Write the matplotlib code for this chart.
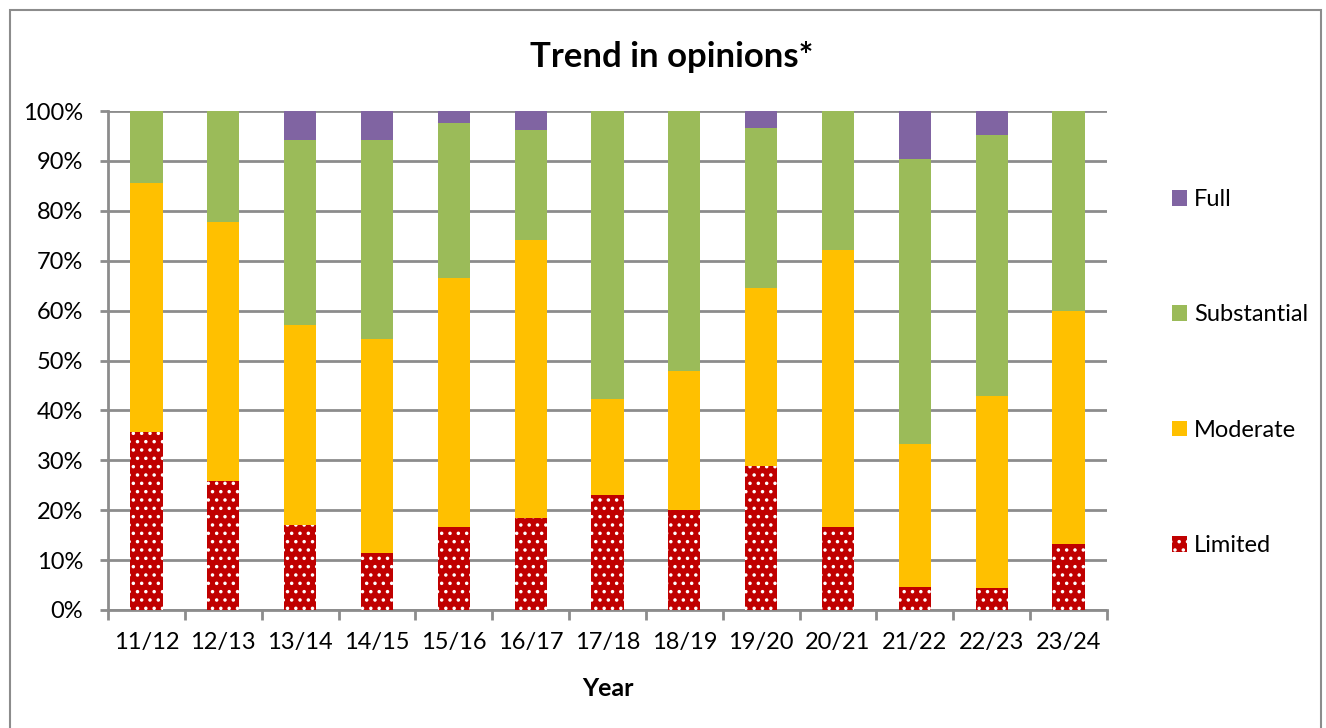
import matplotlib
matplotlib.use("Agg")
import matplotlib.pyplot as plt
import numpy as np
from matplotlib.patches import Rectangle, Patch

plt.rcParams['font.family'] = ['Lato', 'DejaVu Sans']
plt.rcParams['hatch.linewidth'] = 1.3

years = ["11/12", "12/13", "13/14", "14/15", "15/16", "16/17", "17/18",
         "18/19", "19/20", "20/21", "21/22", "22/23", "23/24"]
limited = [35.7, 25.9, 17.0, 11.4, 16.6, 18.4, 23.0, 20.0, 28.9, 16.6, 4.7, 4.5, 13.2]
moderate_top = [85.6, 77.7, 57.1, 54.3, 66.5, 74.1, 42.2, 47.8, 64.5, 72.1, 33.3, 42.9, 59.9]
substantial_top = [100, 100, 94.2, 94.2, 97.6, 96.2, 100, 100, 96.6, 100, 90.4, 95.2, 100]

limited = np.array(limited)
moderate = np.array(moderate_top) - limited
substantial = np.array(substantial_top) - np.array(moderate_top)
full = 100 - np.array(substantial_top)

c_lim = "#C00000"
c_mod = "#FFC000"
c_sub = "#9BBB59"
c_full = "#8064A2"
grid_c = "#8C8C8C"

W, H = 1326, 728
fig = plt.figure(figsize=(W / 100, H / 100), dpi=100)
ax = fig.add_axes([108 / W, (H - 610) / H, (1107 - 108) / W, (610 - 111) / H])

x = np.arange(len(years))
bw = 0.42
ax.bar(x, limited, bw, color=c_lim, edgecolor="white", linewidth=0, hatch="..", zorder=3)
ax.bar(x, moderate, bw, bottom=limited, color=c_mod, linewidth=0, zorder=3)
ax.bar(x, substantial, bw, bottom=limited + moderate, color=c_sub, linewidth=0, zorder=3)
ax.bar(x, full, bw, bottom=limited + moderate + substantial, color=c_full, linewidth=0, zorder=3)

ax.set_xlim(-0.5, len(years) - 0.5)
ax.set_ylim(0, 100)
ax.set_yticks(np.arange(0, 101, 10))
ax.set_yticklabels([f"{v}%" for v in range(0, 101, 10)], fontsize=17)
ax.yaxis.grid(True, color=grid_c, linewidth=2, zorder=0)
ax.set_axisbelow(True)
ax.tick_params(axis="y", length=6, width=2, color=grid_c, pad=12)

ax.set_xticks(x)
ax.set_xticklabels(years, fontsize=17)
ax.set_xticks(np.arange(-0.5, len(years)), minor=True)
ax.tick_params(axis="x", which="major", length=0, pad=16)
ax.tick_params(axis="x", which="minor", length=7, width=2, color=grid_c)

for s in ["top", "right"]:
    ax.spines[s].set_visible(False)
for s in ["left", "bottom"]:
    ax.spines[s].set_color(grid_c)
    ax.spines[s].set_linewidth(2)

ax.set_xlabel("Year", fontsize=18, fontweight="bold", labelpad=17)
fig.text(672 / W, 1 - 57 / H, "Trend in opinions*", fontsize=25, fontweight="bold",
         ha="center", va="center")

handles = [Patch(facecolor=c_full, linewidth=0),
           Patch(facecolor=c_sub, linewidth=0),
           Patch(facecolor=c_mod, linewidth=0),
           Patch(facecolor=c_lim, edgecolor="white", linewidth=0, hatch="..")]
labels = ["Full", "Substantial", "Moderate", "Limited"]
fig.legend(handles, labels, loc="upper left", bbox_to_anchor=(1172 / W, 1 - 189 / H),
           frameon=False, fontsize=17, handlelength=0.64, handleheight=0.64,
           handletextpad=0.3, labelspacing=4.0, borderpad=0, borderaxespad=0)

fig.patches.append(Rectangle((10 / W, -0.01), (1321 - 10) / W, 1 - 10 / H + 0.01,
                             transform=fig.transFigure, fill=False,
                             edgecolor="#8C8C8C", linewidth=1.5))

fig.savefig("out.png", dpi=100)
